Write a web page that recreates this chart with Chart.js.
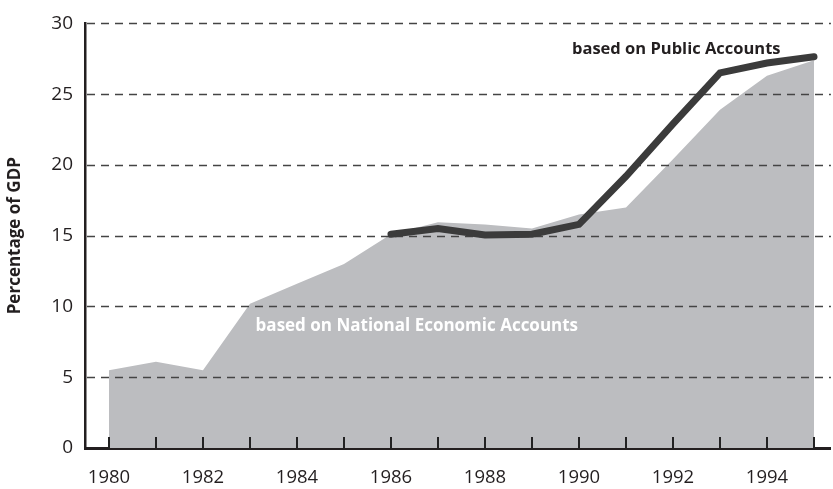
<!DOCTYPE html>
<html>
<head>
<meta charset="utf-8">
<script src="https://cdn.jsdelivr.net/npm/chart.js@4"></script>
<style>
  html, body { margin: 0; padding: 0; background: #ffffff; }
  #wrap { width: 833px; height: 489px; position: relative; }
</style>
</head>
<body>
<div id="wrap"><canvas id="chart"></canvas></div>
<script>
// Government spending as a share of GDP, two accounting bases
const years = [1980, 1981, 1982, 1983, 1984, 1985, 1986, 1987, 1988, 1989, 1990, 1991, 1992, 1993, 1994, 1995];
const nationalAccounts = [5.5, 6.1, 5.5, 10.2, 11.6, 13.0, 15.1, 15.95, 15.8, 15.5, 16.5, 17.0, 20.4, 23.9, 26.3, 27.4];
const publicAccounts = [null, null, null, null, null, null, 15.1, 15.5, 15.05, 15.1, 15.8, 19.2, 22.9, 26.5, 27.2, 27.65];
const yTicks = [0, 5, 10, 15, 20, 25, 30];
const labelPublic = 'based on Public Accounts';
const labelNational = 'based on National Economic Accounts';

const FONT = '"Open Sans", "Liberation Sans", sans-serif';

// Dashed horizontal guides, painted over the grey area but under the dark line
const dashedGuides = {
  id: 'dashedGuides',
  afterDatasetDraw(chart, args) {
    if (args.index !== 0) return;
    const { ctx, chartArea } = chart;
    const y = chart.scales.y;
    ctx.save();
    ctx.strokeStyle = '#444444';
    ctx.lineWidth = 1.3;
    ctx.setLineDash([8, 6]);
    yTicks.forEach(v => {
      if (v === 0) return;
      const py = Math.round(y.getPixelForValue(v)) + 0.5;
      ctx.beginPath();
      ctx.moveTo(chartArea.left + 2, py);
      ctx.lineTo(chartArea.right, py);
      ctx.stroke();
    });
    ctx.restore();
  }
};

// Year ticks rising from the bottom axis, plus the two series captions
const axisMarks = {
  id: 'axisMarks',
  afterDraw(chart) {
    const { ctx, chartArea } = chart;
    const x = chart.scales.x;
    const y = chart.scales.y;
    ctx.save();
    ctx.strokeStyle = '#222222';
    ctx.lineWidth = 2;
    years.forEach(yr => {
      const px = Math.round(x.getPixelForValue(yr));
      ctx.beginPath();
      ctx.moveTo(px, chartArea.bottom - 11);
      ctx.lineTo(px, chartArea.bottom + 1);
      ctx.stroke();
    });
    ctx.textAlign = 'center';
    ctx.textBaseline = 'middle';
    ctx.font = 'bold 16.5px ' + FONT;
    ctx.fillStyle = '#231f20';
    ctx.fillText(labelPublic, x.getPixelForValue(1992.07), y.getPixelForValue(28.2));
    ctx.font = 'bold 17px ' + FONT;
    ctx.fillStyle = '#ffffff';
    ctx.fillText(labelNational, x.getPixelForValue(1986.55), y.getPixelForValue(8.64));
    ctx.restore();
  }
};

new Chart(document.getElementById('chart'), {
  type: 'line',
  data: {
    labels: years,
    datasets: [
      {
        label: 'National Economic Accounts',
        data: years.map((yr, i) => ({ x: yr, y: nationalAccounts[i] })),
        fill: 'origin',
        backgroundColor: '#bcbdc0',
        borderWidth: 0,
        pointRadius: 0,
        tension: 0,
        order: 2
      },
      {
        label: 'Public Accounts',
        data: years.map((yr, i) => ({ x: yr, y: publicAccounts[i] })),
        fill: false,
        borderColor: '#3b3b3b',
        borderWidth: 7,
        borderCapStyle: 'round',
        borderJoinStyle: 'miter',
        pointRadius: 0,
        tension: 0,
        spanGaps: false,
        order: 1
      }
    ]
  },
  options: {
    responsive: true,
    maintainAspectRatio: false,
    animation: false,
    events: [],
    layout: { padding: { top: 14, right: 0, bottom: 0, left: 0 } },
    plugins: {
      legend: { display: false },
      tooltip: { enabled: false }
    },
    scales: {
      x: {
        type: 'linear',
        min: 1979.49,
        max: 1995.36,
        afterBuildTicks(scale) {
          scale.ticks = years.map(v => ({ value: v }));
        },
        afterFit(scale) { scale.height = 41; },
        grid: { display: false, drawTicks: false },
        border: { display: true, color: '#231f20', width: 3 },
        ticks: {
          padding: 19,
          color: '#231f20',
          font: { family: FONT, size: 18.5 },
          maxRotation: 0,
          autoSkip: false,
          callback: v => (v % 2 === 0 ? String(v) : '')
        }
      },
      y: {
        min: 0,
        max: 30,
        afterBuildTicks(scale) {
          scale.ticks = yTicks.map(v => ({ value: v }));
        },
        afterFit(scale) { scale.width = 85; },
        grid: { display: false, drawTicks: false },
        border: { display: true, color: '#231f20', width: 2.5 },
        ticks: {
          padding: 12,
          color: '#231f20',
          font: { family: FONT, size: 19 }
        },
        title: {
          display: true,
          text: 'Percentage of GDP',
          color: '#231f20',
          font: { family: FONT, size: 17, weight: 'bold' },
          padding: { top: 5, bottom: 0 }
        }
      }
    }
  },
  plugins: [dashedGuides, axisMarks]
});
</script>
</body>
</html>
